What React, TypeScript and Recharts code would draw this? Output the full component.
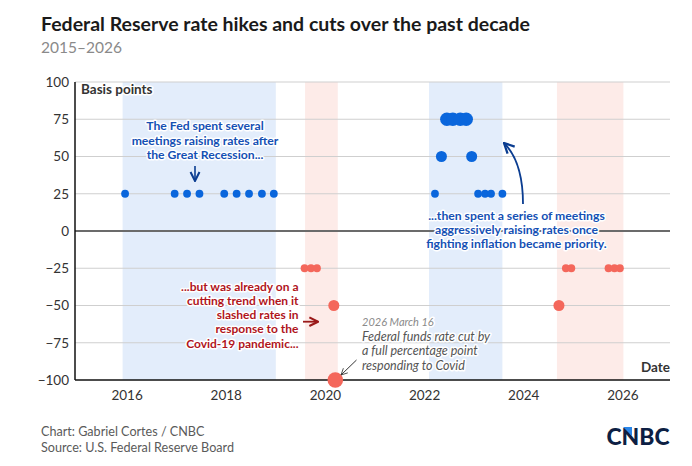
import React from "react";
import {
  ScatterChart,
  Scatter,
  XAxis,
  YAxis,
  ReferenceArea,
  ReferenceLine,
} from "recharts";

// ---- data ----
const hikeDates = [
  2015.96, 2016.96, 2017.21, 2017.46, 2017.96, 2018.21, 2018.46, 2018.72, 2018.96,
  2022.21, 2022.34, 2022.45, 2022.57, 2022.72, 2022.84, 2022.95, 2023.08, 2023.22, 2023.34, 2023.57,
];
const hikeBps = [25, 25, 25, 25, 25, 25, 25, 25, 25, 25, 50, 75, 75, 75, 75, 50, 25, 25, 25, 25];

const cutDates = [2019.58, 2019.71, 2019.83, 2020.17, 2020.2, 2024.71, 2024.85, 2024.96, 2025.71, 2025.83, 2025.94];
const cutBps = [-25, -25, -25, -50, -100, -50, -25, -25, -25, -25, -25];

const hikeBandStarts = [2015.91, 2022.09];
const hikeBandEnds = [2019.0, 2023.57];
const cutBandStarts = [2019.59, 2024.67];
const cutBandEnds = [2020.25, 2026.01];

const xTicks = [2016, 2018, 2020, 2022, 2024, 2026];
const yTicks = [-100, -75, -50, -25, 0, 25, 50, 75, 100];

const hikes = hikeDates.map((d, i) => ({ date: d, bps: hikeBps[i] }));
const cuts = cutDates.map((d, i) => ({ date: d, bps: cutBps[i] }));

const FONT = "Lato, 'Open Sans', sans-serif";
const BLUE = "#0a66dc";
const RED = "#f4675b";
const ANN_BLUE = "#1450b4";
const ANN_RED = "#b0141c";

const fmtY = (v: number) => (v < 0 ? "\u2212" + Math.abs(v) : String(v));

const dot = (color: string) => (props: any) => {
  const { cx, cy, payload } = props;
  if (cx == null || cy == null) return <g />;
  const r = 7.8 * Math.sqrt(Math.abs(payload.bps) / 100);
  return <circle cx={cx} cy={cy} r={r} fill={color} />;
};

const halo = {
  stroke: "#fff",
  strokeWidth: 3,
  paintOrder: "stroke" as const,
  strokeLinejoin: "round" as const,
};

export default function App() {
  return (
    <div
      style={{
        position: "absolute",
        left: 0,
        top: 0,
        width: 692,
        height: 466,
        background: "#fff",
        fontFamily: FONT,
      }}
    >
      <ScatterChart
        width={692}
        height={466}
        margin={{ top: 82, right: 22, bottom: 56, left: 0 }}
      >
        {hikeBandStarts.map((s, i) => (
          <ReferenceArea
            key={"hb" + i}
            x1={s}
            x2={hikeBandEnds[i]}
            y1={-100}
            y2={100}
            fill="#e3edfb"
            fillOpacity={1}
            stroke="none"
          />
        ))}
        {cutBandStarts.map((s, i) => (
          <ReferenceArea
            key={"cb" + i}
            x1={s}
            x2={cutBandEnds[i]}
            y1={-100}
            y2={100}
            fill="#fdebe8"
            fillOpacity={1}
            stroke="none"
          />
        ))}
        {yTicks
          .filter((t) => t !== 0 && t !== -100)
          .map((t) => (
            <ReferenceLine key={"g" + t} y={t} stroke="#cfcfcf" strokeWidth={1} />
          ))}
        <ReferenceLine y={0} stroke="#6b6b6b" strokeWidth={2} />
        <XAxis
          type="number"
          dataKey="date"
          domain={[2014.95, 2026.95]}
          ticks={xTicks}
          allowDataOverflow
          tickLine={false}
          tickSize={0}
          tickMargin={10}
          height={30}
          axisLine={{ stroke: "#111", strokeWidth: 1.5 }}
          tick={{ fill: "#333", fontSize: 13.5, fontFamily: FONT }}
        />
        <YAxis
          type="number"
          dataKey="bps"
          domain={[-100, 100]}
          ticks={yTicks}
          width={75}
          tickLine={false}
          tickSize={0}
          tickMargin={6}
          tickFormatter={fmtY}
          axisLine={{ stroke: "#111", strokeWidth: 1.5 }}
          tick={{ fill: "#333", fontSize: 13.5, fontFamily: FONT }}
        />
        <Scatter data={hikes} shape={dot(BLUE)} isAnimationActive={false} />
        <Scatter data={cuts} shape={dot(RED)} isAnimationActive={false} />
      </ScatterChart>

      <svg
        width={692}
        height={466}
        style={{ position: "absolute", left: 0, top: 0, pointerEvents: "none" }}
        fontFamily={FONT}
      >
        <defs>
          <marker id="ab" viewBox="0 0 10 10" refX="9" refY="5" markerWidth="7" markerHeight="7" orient="auto-start-reverse">
            <path d="M1,1 L9,5 L1,9" fill="none" stroke="#0b3d91" strokeWidth="1.8" />
          </marker>
          <marker id="ar" viewBox="0 0 10 10" refX="9" refY="5" markerWidth="6" markerHeight="6" orient="auto-start-reverse">
            <path d="M1,1 L9,5 L1,9" fill="none" stroke="#9a1a1a" strokeWidth="2" />
          </marker>
          <marker id="ag" viewBox="0 0 10 10" refX="9" refY="5" markerWidth="8" markerHeight="8" orient="auto-start-reverse">
            <path d="M1,1 L9,5 L1,9" fill="none" stroke="#333" strokeWidth="1" />
          </marker>
        </defs>

        {/* title */}
        <text x={41} y={31} fontSize={19.5} fontWeight={700} fill="#1a1a1a">
          Federal Reserve rate hikes and cuts over the past decade
        </text>
        <text x={41} y={53} fontSize={15.5} fill="#8a8a8a">
          2015–2026
        </text>

        {/* axis titles */}
        <text x={81} y={94} fontSize={13.5} fontWeight={700} fill="#333" {...halo}>
          Basis points
        </text>
        <text x={670} y={372} fontSize={13.5} fontWeight={700} fill="#333" textAnchor="end">
          Date
        </text>

        {/* annotation 1 */}
        <g fontSize={12.2} fontWeight={700} fill={ANN_BLUE} textAnchor="middle">
          <text x={205} y={130} {...halo}>The Fed spent several</text>
          <text x={205} y={144.5} {...halo}>meetings raising rates after</text>
          <text x={205} y={159} {...halo}>the Great Recession...</text>
        </g>
        <line x1={195} y1={166} x2={195} y2={181} stroke="#0b3d91" strokeWidth={1.6} markerEnd="url(#ab)" />

        {/* annotation 2 */}
        <g fontSize={12.2} fontWeight={700} fill={ANN_BLUE} textAnchor="middle">
          <text x={516.5} y={219.5} {...halo}>...then spent a series of meetings</text>
          <text x={516.5} y={233.5} {...halo}>aggressively raising rates once</text>
          <text x={516.5} y={248} {...halo}>fighting inflation became priority.</text>
        </g>
        <path d="M523,204 Q523,162 504,143" fill="none" stroke="#0b3d91" strokeWidth={1.8} markerEnd="url(#ab)" />

        {/* annotation 3 */}
        <g fontSize={12} fontWeight={700} fill={ANN_RED} textAnchor="end">
          <text x={298.5} y={290.5} {...halo}>...but was already on a</text>
          <text x={298.5} y={304.8} {...halo}>cutting trend when it</text>
          <text x={298.5} y={319} {...halo}>slashed rates in</text>
          <text x={298.5} y={333.3} {...halo}>response to the</text>
          <text x={298.5} y={347.6} {...halo}>Covid-19 pandemic...</text>
        </g>
        <line x1={303} y1={321.7} x2={318} y2={321.7} stroke="#9a1a1a" strokeWidth={1.8} markerEnd="url(#ar)" />

        {/* annotation 4 */}
        <text x={362} y={326} fontSize={11} fontStyle="italic" fill="#8a8a8a" {...halo}>
          2026 March 16
        </text>
        <g fontSize={12.5} fontStyle="italic" fill="#555">
          <text x={362} y={341} {...halo}>Federal funds rate cut by</text>
          <text x={362} y={355.3} {...halo}>a full percentage point</text>
          <text x={362} y={369.6} {...halo}>responding to Covid</text>
        </g>
        <line x1={356.5} y1={360} x2={341} y2={375} stroke="#333" strokeWidth={1} markerEnd="url(#ag)" />

        {/* footer */}
        <text x={41} y={436} fontSize={12.6} fill="#5a5a5a">
          Chart: Gabriel Cortes / CNBC
        </text>
        <text x={41} y={451.5} fontSize={12.6} fill="#5a5a5a">
          Source: U.S. Federal Reserve Board
        </text>
        <text x={606.5} y={444.5} fontSize={23} fontWeight={900} fill="#0d1f44" textLength={63} lengthAdjust="spacingAndGlyphs">
          CNBC
        </text>
        <polygon points="623,427 632,427 632,436" fill="#2a86e8" />
      </svg>
    </div>
  );
}
